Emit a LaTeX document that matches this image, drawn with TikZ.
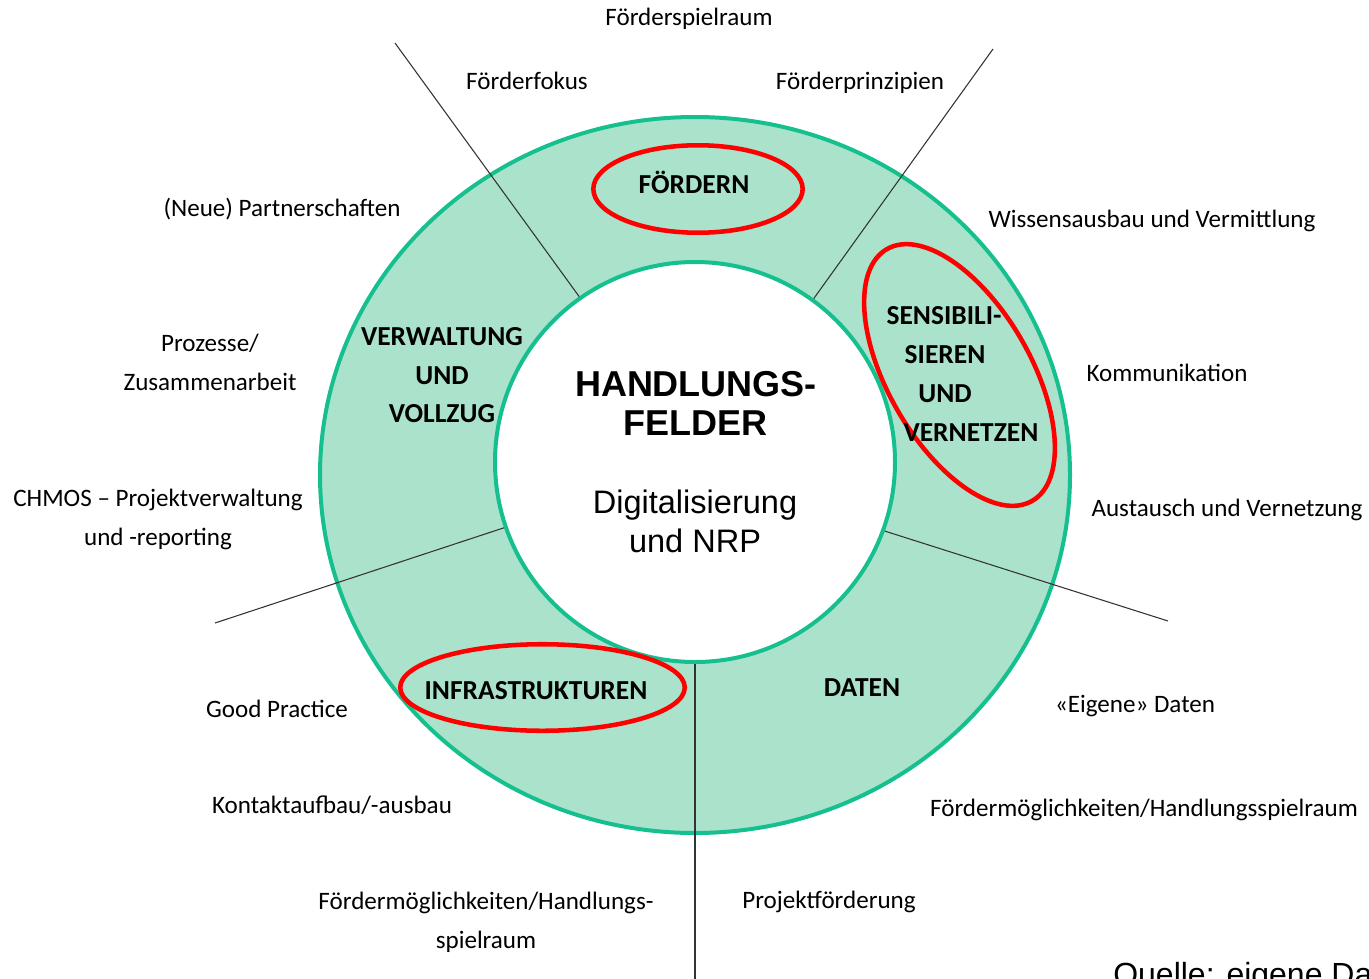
\documentclass[tikz,border=0pt]{standalone}
\usepackage{fontspec}
\setmainfont{Carlito}
\newfontfamily\arialfont{Liberation Sans}
\usetikzlibrary{shapes.geometric}
\definecolor{ringfill}{RGB}{170,226,203}
\definecolor{ringline}{RGB}{22,192,142}

\begin{document}
\begin{tikzpicture}[x=0.75pt, y=-0.75pt,
    every node/.style={inner sep=0pt, anchor=base},
    lbl/.style={font=\fontsize{18.8}{22}\selectfont},
    field/.style={font=\fontsize{20.6}{24}\selectfont\bfseries},
    core/.style={circle, anchor=center, fill=white, draw=ringline, line width=3pt, minimum size=300pt},
    redring/.style={ellipse, anchor=center, draw=red, line width=3.4pt},
    sep/.style={draw=black!80, line width=0.8pt}]

    \clip (0,0) rectangle (1369,978);

    \filldraw [fill=ringfill, draw=ringline, line width=3pt] (695,475) ellipse [x radius=375, y radius=358];
    \node [core] (core) at (695,462) {};

    \coordinate (cutFokus) at (395,43);
    \coordinate (cutPrinzip) at (993,49);
    \coordinate (cutVerwaltung) at (215,623);
    \coordinate (cutDaten) at (1168,621);
    \coordinate (cutInfra) at (695,990);

    \draw [sep] (core.125) -- (cutFokus);
    \draw [sep] (core.54.5) -- (cutPrinzip);
    \draw [sep] (core.199.4) -- (cutVerwaltung);
    \draw [sep] (core.340.3) -- (cutDaten);
    \draw [sep] (core.270) -- (cutInfra);

    \node [redring, minimum width=157pt, minimum height=65.6pt] (rFoerdern) at (698,189) {};
    \node [redring, minimum width=218pt, minimum height=107pt, rotate=-60] (rSensib) at (959.5,375) {};
    \node [redring, minimum width=213.4pt, minimum height=64.9pt] (rInfra) at (542.5,687.5) {};

    \node [field] (fVerw1) at (442,345) {VERWALTUNG};
    \node [field] (fVerw2) at (442,384) {UND};
    \node [field] (fVerw3) at (442,422) {VOLLZUG};
    \node [field] (fFoerdern) at (694,193) {FÖRDERN};
    \node [field] (fSens1) at (944,324) {SENSIBILI-};
    \node [field] (fSens2) at (945,363) {SIEREN};
    \node [field] (fSens3) at (945,402) {UND};
    \node [field] (fSens4) at (971,441) {VERNETZEN};
    \node [field] (fInfra) at (536,699) {INFRASTRUKTUREN};
    \node [field] (fDaten) at (862,696) {DATEN};

    \node [font=\arialfont\fontsize{27}{32}\selectfont\bfseries] (title1) at (696,396) {HANDLUNGS-};
    \node [font=\arialfont\fontsize{27}{32}\selectfont\bfseries] (title2) at (695,435) {FELDER};
    \node [font=\arialfont\fontsize{24.4}{29}\selectfont] (sub1) at (695,513) {Digitalisierung};
    \node [font=\arialfont\fontsize{24.4}{29}\selectfont] (sub2) at (695,552) {und NRP};

    \node [lbl] (spielraum) at (689,25) {Förderspielraum};
    \node [lbl] (fokus) at (527,89) {Förderfokus};
    \node [lbl] (prinzip) at (860,89) {Förderprinzipien};
    \node [lbl] (partner) at (282,216) {(Neue) Partnerschaften};
    \node [lbl] (wissen) at (1152,227) {Wissensausbau und Vermittlung};
    \node [lbl] (prozess1) at (210,351) {Prozesse/};
    \node [lbl] (prozess2) at (210,390) {Zusammenarbeit};
    \node [lbl] (komm) at (1167,381) {Kommunikation};
    \node [lbl] (chmos1) at (158,506) {CHMOS – Projektverwaltung};
    \node [lbl] (chmos2) at (158,545) {und -reporting};
    \node [lbl] (austausch) at (1227,516) {Austausch und Vernetzung};
    \node [lbl] (good) at (277,717) {Good Practice};
    \node [lbl] (eigene) at (1135,712) {«Eigene» Daten};
    \node [lbl] (kontakt) at (332,813) {Kontaktaufbau/-ausbau};
    \node [lbl] (moeglich) at (1144,816) {Fördermöglichkeiten/Handlungsspielraum};
    \node [lbl] (handl1) at (486,909) {Fördermöglichkeiten/Handlungs-};
    \node [lbl] (handl2) at (486,948) {spielraum};
    \node [lbl] (projekt) at (829,908) {Projektförderung};

    \node [anchor=base west, font=\arialfont\fontsize{24}{29}\selectfont] (quelle) at (1113,985) {Quelle: eigene Da};
\end{tikzpicture}
\end{document}
